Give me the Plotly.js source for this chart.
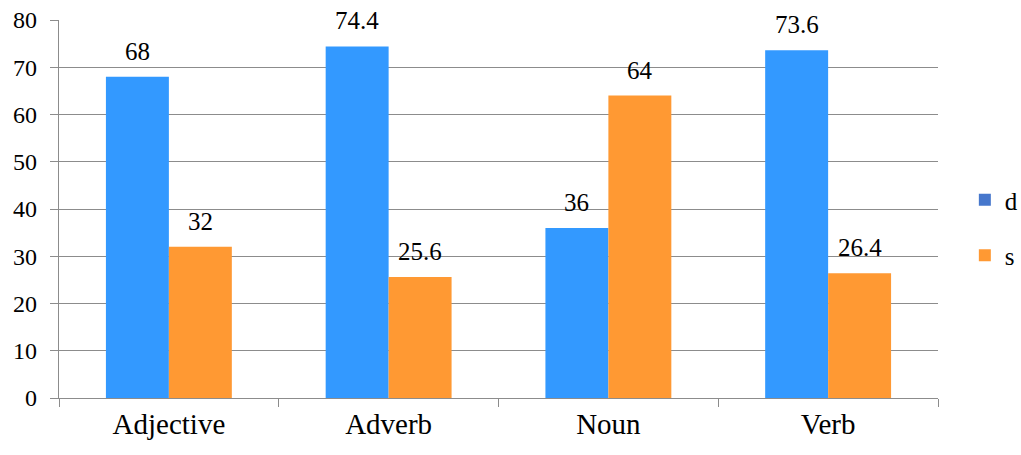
<!DOCTYPE html>
<html><head><meta charset="utf-8">
<script src="https://cdn.plot.ly/plotly-3.0.1.min.js"></script>
</head><body style="margin:0;padding:0;background:#fff">
<div style="position:absolute;left:0;top:0;opacity:0;pointer-events:none;font-family:'Liberation Serif';font-size:25px;white-space:nowrap">Adjective Adverb Noun Verb 0123456789 ds</div>
<div id="chart"></div>
<script>
const categories = ["Adjective", "Adverb", "Noun", "Verb"];
const dValues = [68, 74.4, 36, 73.6];
const sValues = [32, 25.6, 64, 26.4];
const seriesNames = ["d", "s"];
const yTicks = [0, 10, 20, 30, 40, 50, 60, 70, 80];

const FAM = "Liberation Serif, Times New Roman, serif";
function draw() {
  const traces = [
    {type: "bar", x: categories, y: dValues, name: seriesNames[0], showlegend: false,
     marker: {color: "#3399ff"}},
    {type: "bar", x: categories, y: sValues, name: seriesNames[1], showlegend: false,
     marker: {color: "#ff9933"}},
    {type: "scatter", mode: "markers", x: [null], y: [null], name: seriesNames[0], legendgroup: "a",
     marker: {symbol: "square", size: 12, color: "#4677cc"}},
    {type: "scatter", mode: "markers", x: [null], y: [null], name: seriesNames[1], legendgroup: "b",
     marker: {symbol: "square", size: 12, color: "#ff9933"}}
  ];
  const annotations = [];
  categories.forEach((c, i) => {
    annotations.push({x: c, y: dValues[i], text: String(dValues[i]), showarrow: false,
      xshift: -31.5, yshift: 10, yanchor: "bottom", font: {family: FAM, size: 25, color: "#000"}});
    annotations.push({x: c, y: sValues[i], text: String(sValues[i]), showarrow: false,
      xshift: 31.5, yshift: 10, yanchor: "bottom", font: {family: FAM, size: 25, color: "#000"}});
  });
  const layout = {
    width: 1021, height: 455,
    margin: {l: 59, r: 83, t: 20, b: 57},
    paper_bgcolor: "#fff", plot_bgcolor: "#fff",
    barmode: "group", bargap: 0.427, bargroupgap: 0,
    font: {family: FAM, color: "#000"},
    showlegend: true,
    annotations: annotations,
    legend: {xref: "container", yref: "container", x: 0.945, y: 0.5, xanchor: "left", yanchor: "middle",
             traceorder: "grouped", tracegroupgap: 20, font: {family: FAM, size: 25, color: "#000"},
             itemwidth: 30},
    xaxis: {type: "category", showline: true, linecolor: "#8c8c8c", linewidth: 1.3,
            ticks: "outside", tickson: "boundaries", ticklen: 8, tickcolor: "#8c8c8c",
            tickfont: {family: FAM, size: 29, color: "#000"}, showgrid: false, zeroline: false},
    yaxis: {range: [0, 80], tickvals: yTicks, showline: true, linecolor: "#8c8c8c", linewidth: 1.3,
            ticks: "outside", ticklen: 8, tickcolor: "#8c8c8c", gridcolor: "#8c8c8c", gridwidth: 1.3,
            tickfont: {family: FAM, size: 24, color: "#000"}, zeroline: false, ticklabelstandoff: 8}
  };
  Plotly.newPlot("chart", traces, layout, {displayModeBar: false});
}
draw();
if (document.fonts && document.fonts.load) {
  document.fonts.load('25px "Liberation Serif"').then(() => draw()).catch(() => {});
}
</script></body></html>
